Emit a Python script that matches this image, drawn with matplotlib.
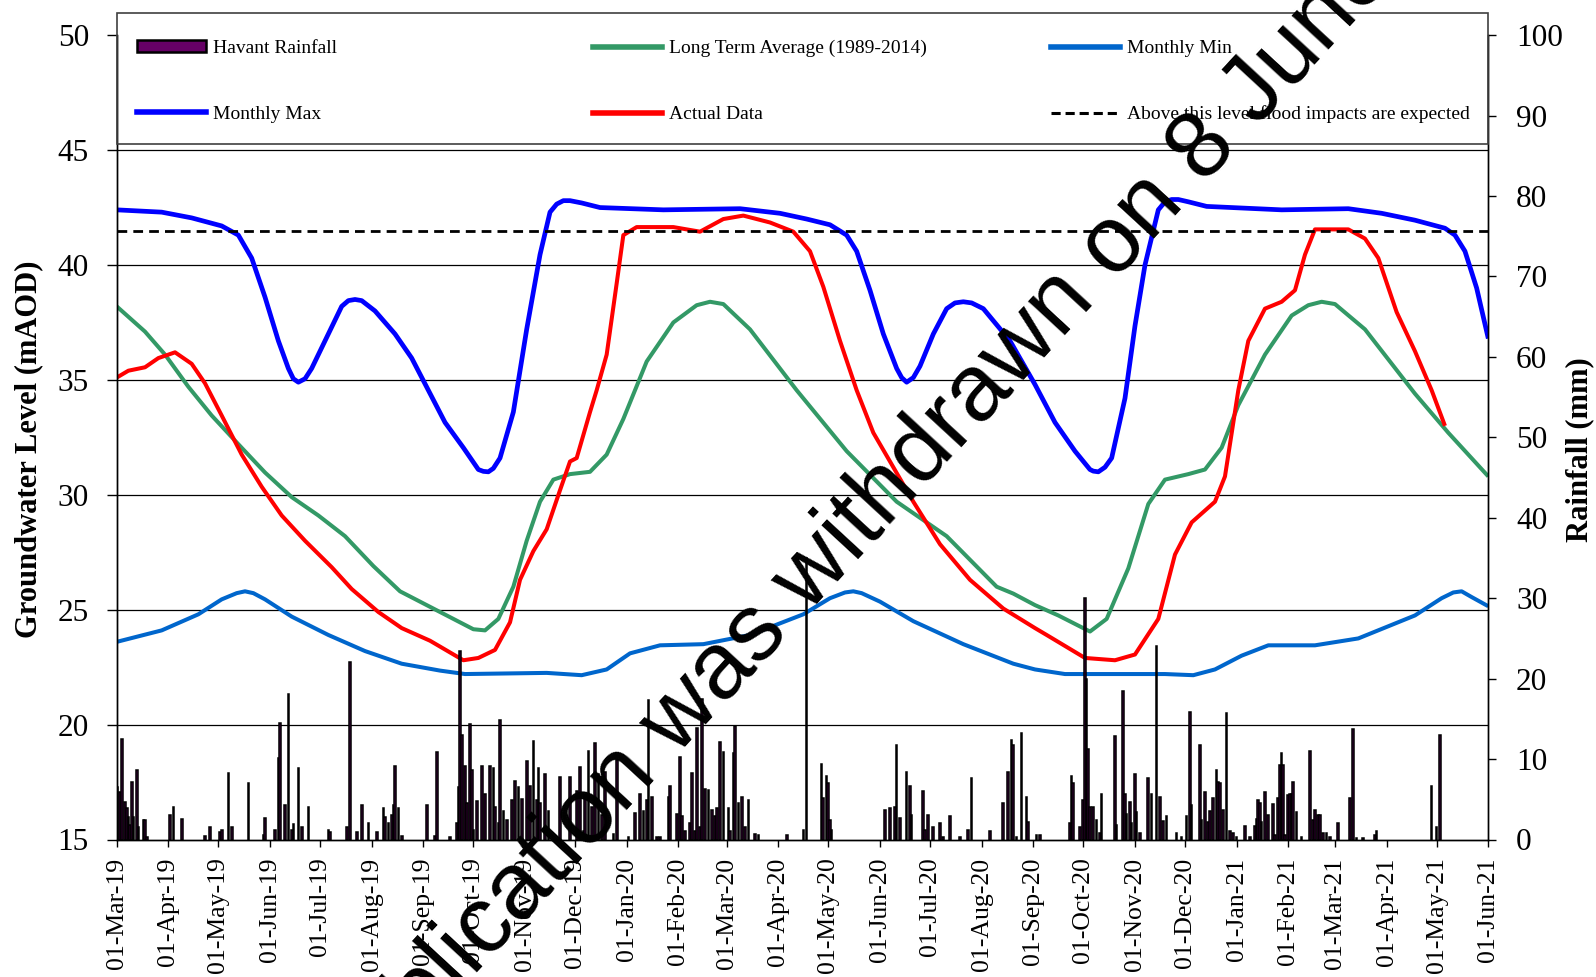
import matplotlib
matplotlib.use("Agg")
import matplotlib.pyplot as plt
import matplotlib.dates as mdates
from matplotlib.patches import Rectangle, Patch
from matplotlib.lines import Line2D
import pandas as pd

plt.rcParams["font.family"] = ["Liberation Serif", "DejaVu Serif"]

START = pd.Timestamp("2019-03-01")
END = pd.Timestamp("2021-06-01")

# every series: days after 01-Mar-19
MAX_DAY = [0, 27, 45, 63, 73, 81, 89, 97, 103, 106, 109, 113, 117, 125, 135, 139,
           143, 147, 155, 167, 177, 187, 197, 208, 217, 220, 223, 226, 230, 238,
           246, 254, 260, 264, 268, 272, 279, 290, 328, 374, 398, 414, 428, 438,
           444, 452, 460, 468, 471, 474, 478, 482, 490, 498, 503, 508, 513, 520,
           536, 551, 563, 575, 584, 586, 589, 593, 597, 605, 611, 617, 625, 629,
           633, 637, 643, 654, 699, 739, 759, 779, 797, 803, 809, 816, 823]
MAX_LVL = [42.4, 42.3, 42.05, 41.7, 41.3, 40.3, 38.6, 36.7, 35.5, 35.05, 34.9,
           35.05, 35.5, 36.7, 38.2, 38.45, 38.5, 38.45, 38.0, 37.0, 35.95, 34.55,
           33.15, 32.05, 31.1, 31.02, 31.0, 31.15, 31.6, 33.6, 37.2, 40.45, 42.3,
           42.65, 42.8, 42.8, 42.7, 42.5, 42.4, 42.45, 42.25, 42.0, 41.75, 41.3,
           40.6, 38.9, 37.0, 35.5, 35.1, 34.9, 35.1, 35.6, 37.0, 38.1, 38.35, 38.4,
           38.35, 38.1, 36.7, 34.8, 33.15, 31.9, 31.1, 31.03, 31.0, 31.2, 31.6,
           34.2, 37.35, 40.0, 42.4, 42.75, 42.85, 42.85, 42.75, 42.55, 42.4, 42.45,
           42.25, 41.95, 41.6, 41.3, 40.6, 39.0, 36.8]

MIN_DAY = [0, 27, 49, 63, 72, 77, 82, 89, 105, 127, 149, 171, 194, 209, 258, 279,
           294, 308, 326, 352, 380, 412, 428, 437, 442, 447, 458, 478, 508, 538,
           551, 569, 629, 646, 659, 675, 691, 719, 745, 779, 795, 802, 807, 813,
           823]
MIN_LVL = [23.6, 24.1, 24.8, 25.45, 25.72, 25.8, 25.72, 25.45, 24.7, 23.9, 23.2,
           22.65, 22.35, 22.2, 22.25, 22.15, 22.4, 23.1, 23.45, 23.5, 23.9, 24.8,
           25.5, 25.75, 25.8, 25.72, 25.35, 24.5, 23.5, 22.65, 22.4, 22.2, 22.2,
           22.15, 22.4, 23.0, 23.45, 23.45, 23.75, 24.75, 25.5, 25.75, 25.8, 25.55,
           25.15]

LTA_DAY = [0, 17, 29, 43, 57, 73, 89, 105, 121, 137, 154, 170, 186, 202, 214, 221,
           229, 238, 246, 254, 262, 272, 284, 294, 304, 318, 334, 348, 356, 364,
           380, 408, 438, 468, 498, 528, 538, 551, 565, 584, 594, 607, 619, 629,
           643, 653, 663, 673, 689, 705, 715, 723, 731, 749, 779, 799, 823]
LTA_LVL = [38.2, 37.1, 36.1, 34.7, 33.45, 32.2, 30.97, 29.9, 29.1, 28.2, 26.9, 25.8,
           25.2, 24.6, 24.15, 24.1, 24.6, 26.0, 28.0, 29.7, 30.66, 30.9, 31.0,
           31.75, 33.3, 35.8, 37.5, 38.25, 38.4, 38.3, 37.2, 34.55, 31.9, 29.7,
           28.2, 26.0, 25.7, 25.2, 24.75, 24.05, 24.6, 26.8, 29.6, 30.66, 30.9,
           31.1, 32.05, 33.9, 36.1, 37.8, 38.25, 38.4, 38.3, 37.2, 34.4, 32.7, 30.8]

ACT_DAY = [0, 7, 17, 25, 35, 45, 53, 63, 75, 87, 99, 113, 129, 141, 157, 171, 188,
           208, 217, 227, 236, 242, 250, 258, 266, 272, 276, 284, 288, 294, 300,
           304, 312, 334, 350, 364, 376, 392, 406, 416, 424, 434, 444, 454, 464,
           478, 494, 512, 532, 551, 558, 581, 599, 611, 625, 635, 645, 659, 665,
           673, 679, 689, 699, 707, 713, 719, 739, 749, 757, 768, 779, 789, 797]
ACT_LVL = [35.1, 35.4, 35.55, 35.95, 36.2, 35.7, 34.85, 33.45, 31.75, 30.35, 29.1,
           28.0, 26.85, 25.9, 24.9, 24.2, 23.65, 22.8, 22.9, 23.25, 24.45, 26.3,
           27.55, 28.5, 30.2, 31.45, 31.6, 33.6, 34.55, 36.1, 39.2, 41.3, 41.65,
           41.65, 41.45, 42.0, 42.15, 41.85, 41.45, 40.6, 39.05, 36.7, 34.55, 32.7,
           31.45, 29.7, 27.85, 26.3, 25.05, 24.2, 23.9, 22.9, 22.8, 23.05, 24.6,
           27.4, 28.8, 29.7, 30.8, 34.55, 36.7, 38.1, 38.4, 38.9, 40.45, 41.55,
           41.55, 41.15, 40.3, 37.95, 36.25, 34.55, 33.0]

FLOOD_LEVEL = 41.5

RAIN_DAY = [0, 2, 3, 5, 6, 7, 8, 9, 10, 12, 13, 16, 17, 18, 32, 34, 39, 53, 56, 62,
            63, 67, 69, 79, 88, 89, 95, 97, 98, 101, 103, 105, 106, 109, 111, 115,
            127, 128, 138, 140, 144, 147, 151, 156, 160, 161, 163, 165, 166, 167,
            169, 171, 186, 191, 192, 200, 204, 205, 206, 207, 209, 210, 212, 213,
            214, 216, 219, 221, 224, 226, 227, 229, 230, 232, 234, 237, 239, 241,
            243, 246, 248, 250, 252, 253, 254, 257, 259, 266, 272, 276, 278, 280,
            281, 283, 285, 287, 289, 291, 293, 298, 300, 307, 311, 314, 316, 318,
            319, 321, 324, 326, 331, 332, 336, 338, 339, 341, 344, 345, 347, 348,
            350, 351, 353, 355, 357, 359, 360, 362, 364, 367, 368, 370, 371, 373,
            375, 377, 379, 383, 385, 402, 412, 414, 423, 424, 426, 427, 428, 429,
            461, 464, 467, 468, 470, 474, 476, 477, 484, 485, 487, 490, 494, 496,
            500, 506, 511, 513, 524, 532, 535, 537, 538, 540, 543, 546, 547, 552,
            554, 572, 573, 574, 578, 580, 581, 582, 583, 584, 586, 588, 590, 591,
            599, 600, 604, 605, 606, 608, 609, 611, 612, 614, 619, 621, 624, 626,
            628, 630, 636, 639, 642, 644, 645, 650, 651, 653, 655, 656, 658, 660,
            661, 662, 664, 666, 668, 670, 672, 677, 680, 683, 684, 685, 686, 687,
            689, 691, 694, 695, 697, 698, 699, 700, 701, 703, 704, 705, 706, 708,
            711, 716, 718, 719, 721, 722, 724, 726, 728, 733, 740, 742, 744, 748,
            755, 756, 789, 792, 794]
RAIN_MM = [6.5, 5.9, 12.5, 4.7, 3.9, 2.8, 1.8, 7.2, 2.8, 8.7, 1.6, 2.4, 2.4, 0.3,
           3.0, 4.1, 2.5, 0.4, 1.5, 0.9, 1.2, 8.3, 1.5, 7.0, 0.5, 2.7, 1.2, 10.1,
           14.5, 4.3, 18.1, 1.2, 1.9, 8.9, 1.5, 4.1, 1.2, 0.9, 1.5, 22.1, 0.9, 4.3,
           2.1, 0.9, 3.9, 2.8, 2.1, 3.1, 4.3, 9.1, 3.9, 0.4, 4.3, 0.4, 10.9, 0.3,
           2.0, 6.5, 23.4, 13.0, 9.1, 4.5, 14.3, 8.6, 1.2, 4.8, 9.1, 5.7, 9.1, 8.9,
           4.1, 2.0, 14.9, 3.6, 2.4, 4.9, 7.3, 6.5, 5.0, 9.7, 6.7, 12.3, 4.9, 8.9,
           4.5, 8.1, 3.6, 7.8, 7.8, 6.0, 9.0, 1.0, 5.5, 11.0, 4.0, 12.0, 8.2, 3.0,
           8.4, 0.7, 9.9, 0.3, 3.3, 5.7, 3.5, 4.9, 17.4, 5.3, 0.3, 0.3, 5.3, 6.7,
           3.2, 10.3, 2.9, 1.0, 2.1, 8.3, 1.0, 13.9, 1.5, 17.5, 6.3, 6.2, 3.7, 2.9,
           3.9, 12.1, 10.9, 3.9, 1.0, 10.7, 14.1, 4.5, 5.3, 1.5, 4.9, 0.7, 0.5, 0.5,
           1.2, 35.0, 9.4, 5.1, 7.9, 7.0, 2.4, 1.2, 3.7, 3.9, 4.1, 11.8, 2.7, 8.4,
           6.6, 3.1, 6.0, 1.2, 3.1, 1.5, 2.1, 0.3, 2.9, 0.3, 1.2, 7.7, 1.0, 4.6,
           8.4, 12.4, 11.7, 0.3, 13.3, 5.3, 2.2, 0.5, 0.6, 2.1, 7.9, 7.0, 1.5, 4.9,
           30.0, 19.9, 11.3, 4.1, 4.1, 2.4, 0.8, 5.7, 12.9, 1.8, 18.5, 5.7, 3.2,
           4.7, 2.0, 8.1, 3.4, 0.8, 7.7, 5.7, 24.0, 5.3, 2.3, 2.9, 0.8, 0.3, 2.9,
           15.9, 4.3, 11.7, 2.4, 5.9, 2.2, 3.5, 5.1, 8.7, 7.1, 7.0, 3.7, 15.7, 1.0,
           0.8, 0.3, 1.7, 0.3, 1.7, 2.5, 4.9, 4.5, 2.2, 5.9, 3.1, 4.4, 0.6, 5.1,
           9.3, 10.8, 9.3, 0.6, 5.5, 5.7, 5.7, 7.1, 3.4, 0.3, 11.0, 2.4, 3.7, 3.1,
           3.1, 0.8, 0.8, 0.3, 2.1, 5.1, 13.7, 0.2, 0.2, 0.6, 1.0, 6.6, 1.5, 13.0]


def to_dates(days):
    return START + pd.to_timedelta(days, unit="D")


C_MAX = "#0000FF"
C_MIN = "#0066CC"
C_LTA = "#339966"
C_ACT = "#FF0000"
C_RAIN = "#660066"

W, H = 1596, 977
L, R, T, B = 116.7, 1488.3, 35.2, 839.5

fig = plt.figure(figsize=(W / 100, H / 100), dpi=100)
ax = fig.add_axes([L / W, 1 - B / H, (R - L) / W, (B - T) / H])
ax2 = ax.twinx()

kw = dict(solid_joinstyle="round", solid_capstyle="butt")
ax.plot(to_dates(LTA_DAY), LTA_LVL, color=C_LTA, lw=2.9, **kw)
ax.plot(to_dates(MIN_DAY), MIN_LVL, color=C_MIN, lw=2.9, **kw)
ax.plot(to_dates(MAX_DAY), MAX_LVL, color=C_MAX, lw=3.4, **kw)
ax.plot(to_dates(ACT_DAY), ACT_LVL, color=C_ACT, lw=2.9, **kw)
ax.plot([START, END], [FLOOD_LEVEL, FLOOD_LEVEL], color="black", lw=2.0,
        dashes=(3.5, 2.2))

ax2.bar(to_dates(RAIN_DAY), RAIN_MM, width=1.0, color=C_RAIN,
        edgecolor="black", linewidth=1.1)

ax.set_xlim(START, END)
ax.set_ylim(15, 50)
ax.set_yticks(range(15, 51, 5))
ax2.set_ylim(0, 100)
ax2.set_yticks(range(0, 101, 10))

for y in range(20, 46, 5):
    ax.axhline(y, color="black", lw=0.9, zorder=0.5)

ax.xaxis.set_major_locator(mdates.MonthLocator())
ax.xaxis.set_major_formatter(mdates.DateFormatter("%d-%b-%y"))
ax.tick_params(axis="x", labelrotation=90, labelsize=18.5, direction="out",
               length=5, width=1, pad=8)
ax.tick_params(axis="y", labelsize=22.5, direction="out", length=7, width=1, pad=13)
ax2.tick_params(axis="y", labelsize=22.5, direction="out", length=6, width=1, pad=14)

for a in (ax, ax2):
    a.spines["top"].set_visible(False)
    for s in ("left", "right", "bottom"):
        a.spines[s].set_linewidth(1.0)
        a.spines[s].set_color("black")

ax.set_ylabel("Groundwater Level (mAOD)", fontsize=22, fontweight="bold")
ax2.set_ylabel("Rainfall (mm)", fontsize=22, fontweight="bold", rotation=90)
ax.yaxis.set_label_coords((43 - L) / (R - L), 0.485)
ax2.yaxis.set_label_coords((1565 - L) / (R - L), 0.485)

# legend box across the top band
fig.patches.append(Rectangle((117.3 / W, 1 - 144.3 / H), (1488 - 117.3) / W,
                             131 / H, transform=fig.transFigure, facecolor="none",
                             edgecolor="#404040", lw=1.2))

h_rain = Patch(facecolor=C_RAIN, edgecolor="black", lw=1.8)
h_max = Line2D([], [], color=C_MAX, lw=4)
h_lta = Line2D([], [], color=C_LTA, lw=4)
h_act = Line2D([], [], color=C_ACT, lw=4)
h_min = Line2D([], [], color=C_MIN, lw=4)
h_flood = Line2D([], [], color="black", lw=2.2, dashes=(3, 1.6))

columns = [
    (137, [h_rain, h_max], ["Havant Rainfall", "Monthly Max"]),
    (593, [h_lta, h_act], ["Long Term Average (1989-2014)", "Actual Data"]),
    (1051, [h_min, h_flood], ["Monthly Min", "Above this level flood impacts are expected"]),
]
for xpx, hs, ls in columns:
    fig.legend(hs, ls, loc="upper left", bbox_to_anchor=(xpx / W, 1 - 40 / H),
               frameon=False, fontsize=14, borderpad=0, borderaxespad=0,
               handlelength=3.55, handleheight=0.55, handletextpad=0.37,
               labelspacing=2.5)

fig.text(213 / W, 1 - 1258 / H, "This publication was withdrawn on 8 June",
         family="Liberation Sans", fontsize=68, rotation=47.3,
         rotation_mode="anchor", ha="left", va="baseline", color="black")

fig.savefig("out.png", dpi=100)
